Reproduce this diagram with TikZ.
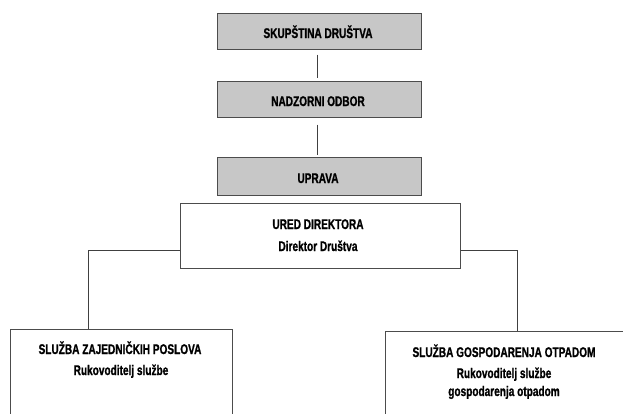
\documentclass[tikz,border=0pt]{standalone}
\usepackage{fontspec}
\setmainfont{Liberation Sans}[FakeStretch=0.72,BoldFeatures={FakeBold=1}]
\begin{document}
\begin{tikzpicture}[x=1pt,y=-1pt,
  graybox/.style={draw=black!70,line width=1pt,fill=black!22,minimum width=204pt,minimum height=36pt,inner sep=0pt},
  whitebox/.style={draw=black!70,line width=1pt,fill=white,inner sep=0pt},
  label/.style={font=\bfseries\fontsize{14}{16}\selectfont,text=black,inner sep=0pt,anchor=base},
  conn/.style={draw=black!75,line width=1pt}]
\clip (0,0) rectangle (623,413);
\fill[white] (0,0) rectangle (623,413);
\node[graybox] (b1) at (319,31) {};
\node[graybox] (b2) at (319,99) {};
\node[graybox,minimum height=38pt] (b3) at (319,176) {};
\node[label] (t1) at (318,38) {SKUPŠTINA DRUŠTVA};
\node[label] (t2) at (318,106) {NADZORNI ODBOR};
\node[label] (t3) at (318,183) {UPRAVA};
\node[whitebox,minimum width=280pt,minimum height=65pt] (b4) at (320,235.5) {};
\node[label] (t4a) at (318,229) {URED DIREKTORA};
\node[label] (t4b) at (318,251) {Direktor Društva};
\node[whitebox,minimum width=222pt,minimum height=87pt] (lbox) at (121,372.5) {};
\node[label] (tla) at (120,354) {SLUŽBA ZAJEDNIČKIH POSLOVA};
\node[label] (tlb) at (121,375) {Rukovoditelj službe};
\node[whitebox,minimum width=240pt,minimum height=85pt] (rbox) at (505,373.5) {};
\node[label] (tra) at (504,357) {SLUŽBA GOSPODARENJA OTPADOM};
\node[label] (trb) at (504,378) {Rukovoditelj službe};
\node[label] (trc) at (504,396) {gospodarenja otpadom};
\coordinate (lj) at (88,250);
\coordinate (rj) at (517,250);
\draw[conn,shorten <=5pt,shorten >=3pt] (b1.south -| 317,0) -- (b2.north -| 317,0);
\draw[conn,shorten <=7pt,shorten >=2pt] (b2.south -| 317,0) -- (b3.north -| 317,0);
\draw[conn] (b4.west |- lj) -- (lj) -- (lj |- lbox.north);
\draw[conn] (b4.east |- rj) -- (rj) -- (rj |- rbox.north);
\end{tikzpicture}
\end{document}
